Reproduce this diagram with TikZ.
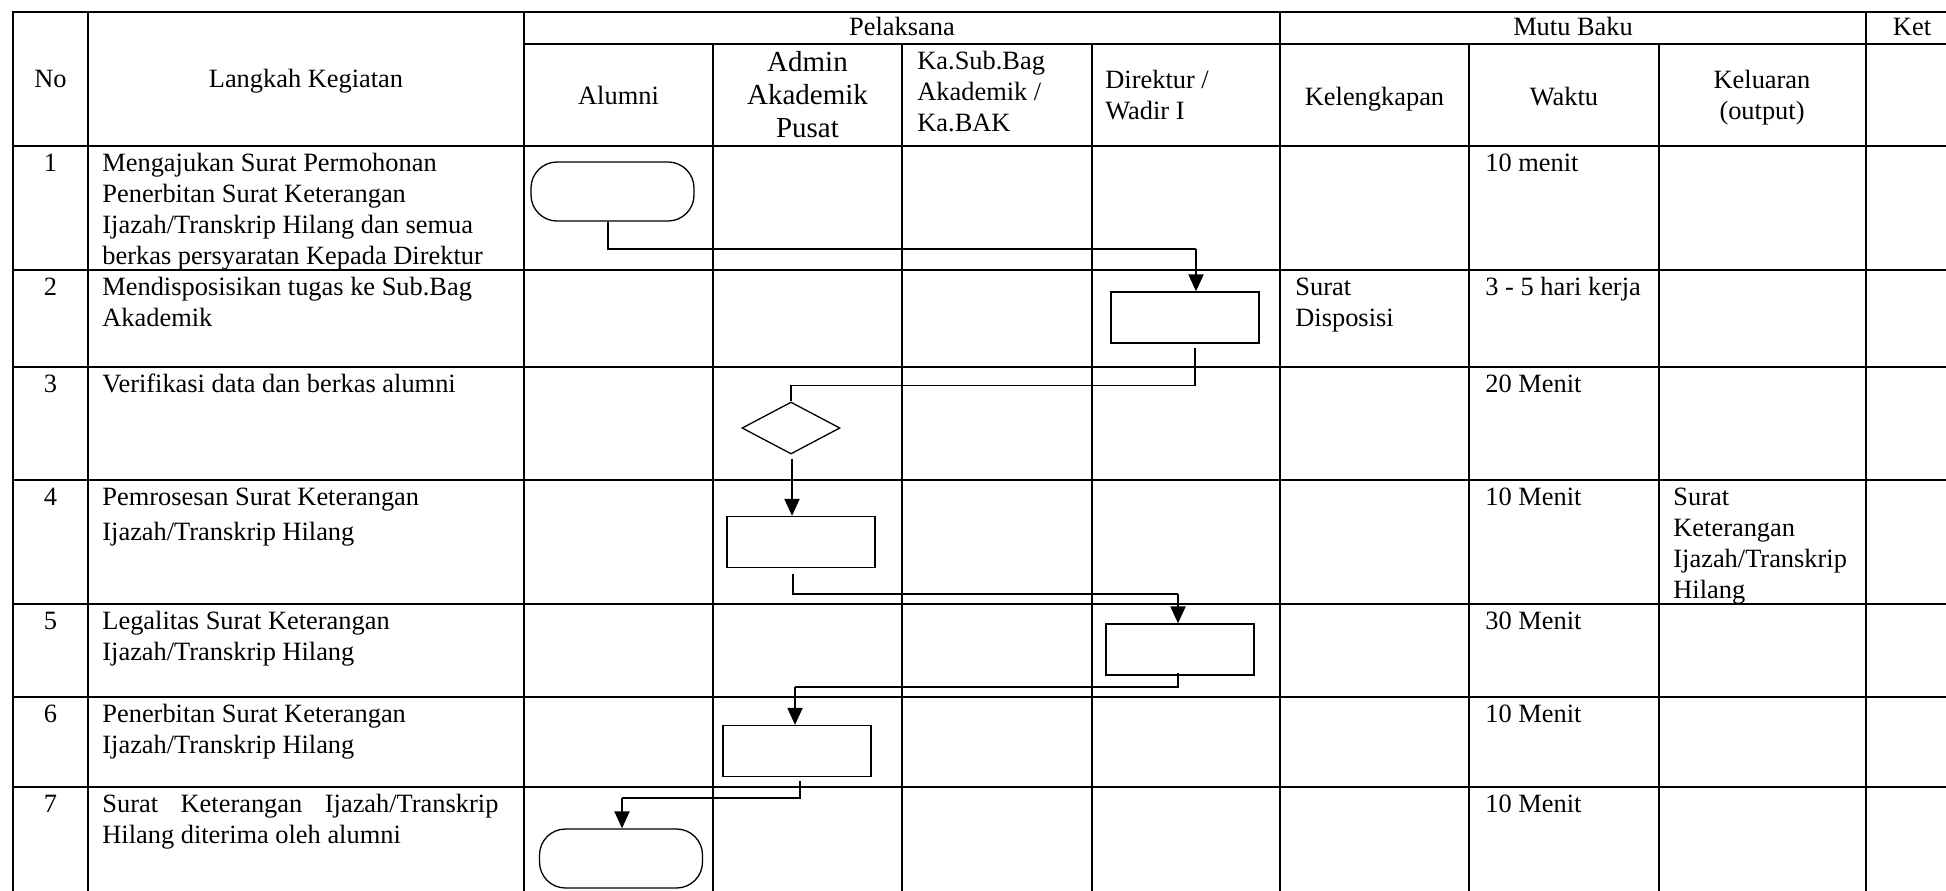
\documentclass[tikz,border=0pt]{standalone}
\usepackage{fontspec}
\setmainfont{Liberation Serif}
\usetikzlibrary{arrows.meta,calc,shapes.geometric}
\newcommand\mylines[1]{\begin{tabular}[t]{@{}l@{}}#1\end{tabular}}
\newcommand\mycenter[1]{\begin{tabular}[t]{@{}c@{}}#1\end{tabular}}
\begin{document}
\begin{tikzpicture}[x=0.5pt,y=-0.5pt,
  grid/.style={line width=0.8pt,line cap=rect},
  conn/.style={line width=0.55pt},
  arrowline/.style={line width=1.05pt,-{Triangle[length=8.5pt,width=7.5pt]}},
  terminal/.style={draw,line width=0.65pt,rounded corners=13pt,minimum width=81.5pt,minimum height=29.5pt,inner sep=0pt},
  procbox/.style={draw,line width=0.65pt,minimum width=74pt,minimum height=25.5pt,inner sep=0pt},
  decision/.style={draw,line width=0.65pt,diamond,minimum width=49pt,minimum height=26pt,inner sep=0pt},
  txt/.style={font=\fontsize{13.2}{15.5}\selectfont,inner sep=0pt},
  bigtxt/.style={font=\fontsize{14.5}{16.5}\selectfont,inner sep=0pt}
]
\useasboundingbox (0,0) rectangle (1946,890);
% ---------- grid ----------
\draw[grid] (13,12) -- (1946,12);
\draw[grid] (524,44) -- (1946,44);
\foreach \y in {146,270,367,480,604,697,787} \draw[grid] (13,\y) -- (1946,\y);
\foreach \x in {13,88,524,1280,1866} \draw[grid] (\x,12) -- (\x,890);
\foreach \x in {713,902,1092,1469,1659} \draw[grid] (\x,44) -- (\x,890);
% ---------- header ----------
\node[txt,anchor=base] (hNo) at (50.5,87) {No};
\node[txt,anchor=base] (hLk) at (306,87) {Langkah Kegiatan};
\node[txt,anchor=base] (hPel) at (902,35) {Pelaksana};
\node[txt,anchor=base] (hMutu) at (1573,35) {Mutu Baku};
\node[txt,anchor=base] (hKet) at (1912,35) {Ket};
\node[txt,anchor=base] (hAl) at (618.5,104) {Alumni};
\node[bigtxt,anchor=base] (hAd) at (807.5,71) {\mycenter{Admin\\Akademik\\Pusat}};
\node[txt,anchor=base west] (hKs) at (917,69) {\mylines{Ka.Sub.Bag\\Akademik /\\Ka.BAK}};
\node[txt,anchor=base west] (hDir) at (1105,88) {\mylines{Direktur /\\Wadir I}};
\node[txt,anchor=base] (hKel) at (1374.5,105) {Kelengkapan};
\node[txt,anchor=base] (hWak) at (1564,105) {Waktu};
\node[txt,anchor=base] (hKlr) at (1762,88) {\mycenter{Keluaran\\(output)}};
% ---------- row numbers ----------
\node[txt,anchor=base] (n1) at (50.5,171) {1};
\node[txt,anchor=base] (n2) at (50.5,295) {2};
\node[txt,anchor=base] (n3) at (50.5,392) {3};
\node[txt,anchor=base] (n4) at (50.5,505) {4};
\node[txt,anchor=base] (n5) at (50.5,629) {5};
\node[txt,anchor=base] (n6) at (50.5,722) {6};
\node[txt,anchor=base] (n7) at (50.5,812) {7};
% ---------- activities ----------
\node[txt,anchor=base west] (a1) at (102,171) {\mylines{Mengajukan Surat Permohonan\\Penerbitan Surat Keterangan\\Ijazah/Transkrip Hilang dan semua\\berkas persyaratan Kepada Direktur}};
\node[txt,anchor=base west] (a2) at (102,295) {\mylines{Mendisposisikan tugas ke Sub.Bag\\Akademik}};
\node[txt,anchor=base west] (a3) at (102,392) {Verifikasi data dan berkas alumni};
\node[txt,anchor=base west] (a4) at (102,505) {\mylines{Pemrosesan Surat Keterangan\\[2pt]Ijazah/Transkrip Hilang}};
\node[txt,anchor=base west] (a5) at (102,629) {\mylines{Legalitas Surat Keterangan\\Ijazah/Transkrip Hilang}};
\node[txt,anchor=base west] (a6) at (102,722) {\mylines{Penerbitan Surat Keterangan\\Ijazah/Transkrip Hilang}};
\node[txt,anchor=base west] (a7) at (102,812) {\mylines{\makebox[198pt][s]{Surat Keterangan Ijazah/Transkrip}\\Hilang diterima oleh alumni}};
% ---------- mutu baku ----------
\node[txt,anchor=base west] (k2) at (1295,295) {\mylines{Surat\\Disposisi}};
\node[txt,anchor=base west] (w1) at (1485,171) {10 menit};
\node[txt,anchor=base west] (w2) at (1485,295) {3 - 5 hari kerja};
\node[txt,anchor=base west] (w3) at (1485,392) {20 Menit};
\node[txt,anchor=base west] (w4) at (1485,505) {10 Menit};
\node[txt,anchor=base west] (w5) at (1485,629) {30 Menit};
\node[txt,anchor=base west] (w6) at (1485,722) {10 Menit};
\node[txt,anchor=base west] (w7) at (1485,812) {10 Menit};
\node[txt,anchor=base west] (o4) at (1673,505) {\mylines{Surat\\Keterangan\\Ijazah/Transkrip\\Hilang}};
% ---------- flow shapes ----------
\node[terminal] (t1) at (612.5,191.5) {};
\node[procbox] (b2) at (1185,317.5) {};
\node[decision] (d3) at (791,428) {};
\node[procbox] (b4) at (801,542) {};
\node[procbox] (b5) at (1180,649.5) {};
\node[procbox] (b6) at (797,751) {};
\node[terminal] (t2) at (621,858.5) {};
% ---------- connectors ----------
\coordinate (k1) at (1196,249);
\coordinate (k3) at ($(d3.south)+(1,4)$);
\coordinate (k4) at (1178,594);
\coordinate (k5) at (795,687);
\coordinate (k6) at (622,798);
\draw[conn] ($(t1.south)+(-4.5,0)$) |- (k1);
\draw[arrowline] (k1) -- (k1 |- b2.north);
\draw[conn] ($(b2.south)+(10,4)$) -- ++(0,38) -| (d3.north);
\draw[arrowline] (k3) -- (k3 |- b4.north);
\draw[conn] ($(b4.south)+(-8,6)$) |- (k4);
\draw[arrowline] (k4) -- (k4 |- b5.north);
\draw[conn] ($(b5.south)+(-2,-3)$) |- (k5);
\draw[arrowline] (k5) -- (k5 |- b6.north);
\draw[conn] ($(b6.south)+(3,4)$) |- (k6);
\draw[arrowline] (k6) -- (k6 |- t2.north);
\end{tikzpicture}
\end{document}
